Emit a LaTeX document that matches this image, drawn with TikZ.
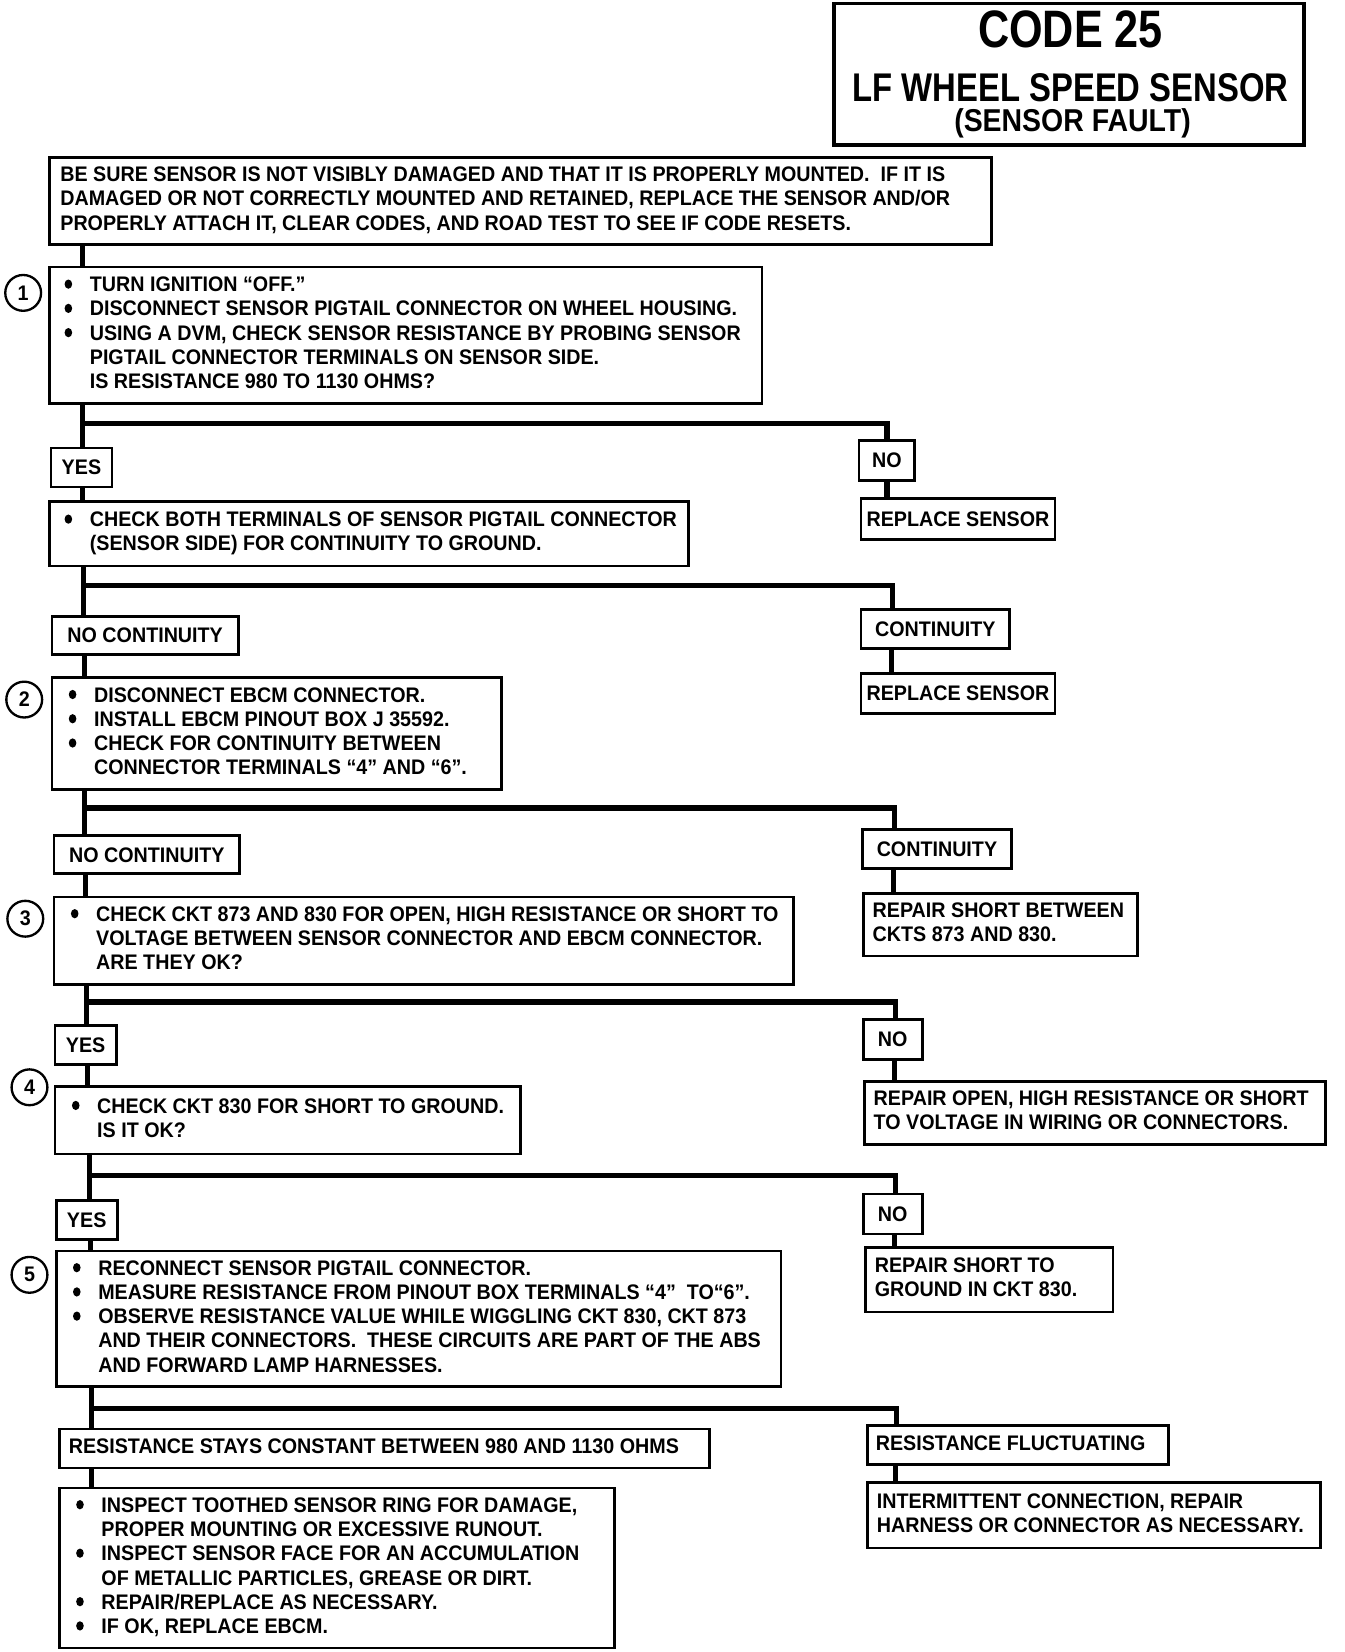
\documentclass[tikz,border=0pt]{standalone}
\usepackage{fontspec}
\setmainfont{Liberation Sans}[FakeStretch=0.935]
\newfontfamily\titlefont{Liberation Sans}[FakeStretch=0.82]
\newfontfamily\subtitlefont{Liberation Sans}[FakeStretch=0.9]
\newcommand{\bl}{\makebox[12pt][l]{\raisebox{1.4pt}{\tikz\fill (0,0) circle[x radius=1.8pt, y radius=2.2pt];}}}
\newcommand{\lb}[2]{\makebox[#1][l]{\begin{tabular}{@{}l@{}l@{}}#2\end{tabular}}}
\begin{document}
\begin{tikzpicture}[x=0.5pt,y=-0.5pt,
  txt/.style={font=\fontsize{10}{11.5}\selectfont\bfseries},
  box/.style={draw, line width=1.3pt, anchor=north west, inner ysep=1pt, txt},
  lab/.style={draw, line width=1.3pt, anchor=north west, inner sep=0pt, txt},
  num/.style={circle, draw, line width=1.1pt, minimum size=17pt, inner sep=0pt, font=\fontsize{10}{10}\selectfont\bfseries},
  conn/.style={line width=2.5pt}]
\useasboundingbox (0,0) rectangle (1276,1568);
% title
\node[draw, line width=1.6pt, anchor=north west, minimum width=223pt, minimum height=67pt, inner sep=0pt] (title) at (790,2) {};
\node[anchor=base, inner sep=0pt, font=\titlefont\fontsize{25}{25}\selectfont\bfseries] (t1) at (1016,45) {CODE 25};
\node[anchor=base, inner sep=0pt, font=\titlefont\fontsize{19}{19}\selectfont\bfseries] (t2) at (1016,96) {LF WHEEL SPEED SENSOR};
\node[anchor=base, inner sep=0pt, font=\subtitlefont\fontsize{15}{15}\selectfont\bfseries] (t3) at (1018,125) {(SENSOR FAULT)};
% boxes
\node[box, minimum width=447pt, minimum height=41.5pt, inner xsep=5pt] (a) at (46,148) {\lb{437pt}{%
&BE SURE SENSOR IS NOT VISIBLY DAMAGED AND THAT IT IS PROPERLY MOUNTED.\ \ IF IT IS\\
&DAMAGED OR NOT CORRECTLY MOUNTED AND RETAINED, REPLACE THE SENSOR AND/OR\\
&PROPERLY ATTACH IT, CLEAR CODES, AND ROAD TEST TO SEE IF CODE RESETS.}};
\node[box, minimum width=338pt, minimum height=65pt, inner xsep=7pt] (b1) at (46,252) {\lb{324pt}{%
\bl&TURN IGNITION ``OFF.''\\
\bl&DISCONNECT SENSOR PIGTAIL CONNECTOR ON WHEEL HOUSING.\\
\bl&USING A DVM, CHECK SENSOR RESISTANCE BY PROBING SENSOR\\
&PIGTAIL CONNECTOR TERMINALS ON SENSOR SIDE.\\
&IS RESISTANCE 980 TO 1130 OHMS?}};
\node[lab, minimum width=29pt, minimum height=18.5pt] (yes1) at (47,424) {YES};
\node[lab, minimum width=26.5pt, minimum height=19pt] (no1) at (814,417) {NO};
\node[lab, minimum width=92pt, minimum height=19.5pt] (rs1) at (816,472) {REPLACE SENSOR};
\node[box, minimum width=303pt, minimum height=30.5pt, inner xsep=7pt] (c1) at (46,475) {\lb{289pt}{%
\bl&CHECK BOTH TERMINALS OF SENSOR PIGTAIL CONNECTOR\\
&(SENSOR SIDE) FOR CONTINUITY TO GROUND.}};
\node[lab, minimum width=88.5pt, minimum height=18pt] (nc1) at (48,584) {NO CONTINUITY};
\node[lab, minimum width=70.5pt, minimum height=18.5pt] (co1) at (816,577) {CONTINUITY};
\node[lab, minimum width=92pt, minimum height=19pt] (rs2) at (816,638) {REPLACE SENSOR};
\node[box, minimum width=213.5pt, minimum height=53pt, inner xsep=8pt] (b2) at (48,642) {\lb{197.5pt}{%
\bl&DISCONNECT EBCM CONNECTOR.\\
\bl&INSTALL EBCM PINOUT BOX J 35592.\\
\bl&CHECK FOR CONTINUITY BETWEEN\\
&CONNECTOR TERMINALS ``4'' AND ``6''.}};
\node[lab, minimum width=88pt, minimum height=18pt] (nc2) at (50,792) {NO CONTINUITY};
\node[lab, minimum width=71pt, minimum height=18.5pt] (co2) at (817,786) {CONTINUITY};
\node[box, minimum width=130pt, minimum height=29.5pt, inner xsep=4.5pt] (rp1) at (818,847) {\lb{121pt}{%
&REPAIR SHORT BETWEEN\\
&CKTS 873 AND 830.}};
\node[box, minimum width=351pt, minimum height=41.5pt, inner xsep=8pt] (b3) at (50,850) {\lb{335pt}{%
\bl&CHECK CKT 873 AND 830 FOR OPEN, HIGH RESISTANCE OR SHORT TO\\
&VOLTAGE BETWEEN SENSOR CONNECTOR AND EBCM CONNECTOR.\\
&ARE THEY OK?}};
\node[lab, minimum width=29pt, minimum height=18.5pt] (yes2) at (51,972) {YES};
\node[lab, minimum width=28pt, minimum height=19pt] (no2) at (818,966) {NO};
\node[box, minimum width=219pt, minimum height=30pt, inner xsep=4.5pt] (rp2) at (819,1025) {\lb{210pt}{%
&REPAIR OPEN, HIGH RESISTANCE OR SHORT\\
&TO VOLTAGE IN WIRING OR CONNECTORS.}};
\node[box, minimum width=221pt, minimum height=32pt, inner xsep=8pt] (b4) at (51,1030) {\lb{205pt}{%
\bl&CHECK CKT 830 FOR SHORT TO GROUND.\\
&IS IT OK?}};
\node[lab, minimum width=29pt, minimum height=18.5pt] (yes3) at (52,1138) {YES};
\node[lab, minimum width=28pt, minimum height=19pt] (no3) at (818,1132) {NO};
\node[box, minimum width=117.5pt, minimum height=30.5pt, inner xsep=4.5pt] (rp3) at (820,1183) {\lb{108.5pt}{%
&REPAIR SHORT TO\\
&GROUND IN CKT 830.}};
\node[box, minimum width=344pt, minimum height=64.5pt, inner xsep=8pt] (b5) at (52,1186) {\lb{328pt}{%
\bl&RECONNECT SENSOR PIGTAIL CONNECTOR.\\
\bl&MEASURE RESISTANCE FROM PINOUT BOX TERMINALS ``4''\ \ TO``6''.\\
\bl&OBSERVE RESISTANCE VALUE WHILE WIGGLING CKT 830, CKT 873\\
&AND THEIR CONNECTORS.\ \ THESE CIRCUITS ARE PART OF THE ABS\\
&AND FORWARD LAMP HARNESSES.}};
\node[box, minimum width=308.5pt, minimum height=18.5pt, inner xsep=4.5pt] (rsc) at (55,1355) {\lb{299.5pt}{%
&RESISTANCE STAYS CONSTANT BETWEEN 980 AND 1130 OHMS}};
\node[box, minimum width=143pt, minimum height=18.5pt, inner xsep=4pt] (rf) at (822,1352) {\lb{135pt}{%
&RESISTANCE FLUCTUATING}};
\node[box, minimum width=215pt, minimum height=31pt, inner xsep=4.5pt] (ic) at (822,1406) {\lb{206pt}{%
&INTERMITTENT CONNECTION, REPAIR\\
&HARNESS OR CONNECTOR AS NECESSARY.}};
\node[box, minimum width=263.5pt, minimum height=76pt, inner xsep=8pt] (fin) at (55,1411) {\lb{247.5pt}{%
\bl&INSPECT TOOTHED SENSOR RING FOR DAMAGE,\\
&PROPER MOUNTING OR EXCESSIVE RUNOUT.\\
\bl&INSPECT SENSOR FACE FOR AN ACCUMULATION\\
&OF METALLIC PARTICLES, GREASE OR DIRT.\\
\bl&REPAIR/REPLACE AS NECESSARY.\\
\bl&IF OK, REPLACE EBCM.}};
% step numbers
\node[num] (s1) at (22,278) {1};
\node[num] (s2) at (23,664) {2};
\node[num] (s3) at (24,872) {3};
\node[num] (s4) at (28,1032) {4};
\node[num] (s5) at (28,1210) {5};
% junctions
\coordinate (j0) at (78,240);
\coordinate (j1) at (78,402);  \coordinate (k1) at (842,402);
\coordinate (j2) at (79,556);  \coordinate (k2) at (847,556);
\coordinate (j3) at (80,767);  \coordinate (k3) at (849,767);
\coordinate (j4) at (82,951);  \coordinate (k4) at (850,951);
\coordinate (j5) at (85,1116); \coordinate (k5) at (850,1116);
\coordinate (j6) at (87,1337); \coordinate (k6) at (851,1337);
% connectors
\draw[conn] (a.south -| j0) -- (b1.north -| j0);
\draw[conn] (b1.south -| j1) -- (yes1.north -| j1);
\draw[conn] (j1) -- (k1) -- (no1.north -| k1);
\draw[conn] (yes1.south -| j1) -- (c1.north -| j1);
\draw[conn] (no1.south -| k1) -- (rs1.north -| k1);
\draw[conn] (c1.south -| j2) -- (nc1.north -| j2);
\draw[conn] (j2) -- (k2) -- (co1.north -| k2);
\draw[conn] ([xshift=0.5pt]nc1.south -| j2) -- ([xshift=0.5pt]b2.north -| j2);
\draw[conn] ([xshift=-0.5pt]co1.south -| k2) -- ([xshift=-0.5pt]rs2.north -| k2);
\draw[conn] (b2.south -| j3) -- (nc2.north -| j3);
\draw[conn] (j3) -- (k3) -- (co2.north -| k3);
\draw[conn] ([xshift=0.5pt]nc2.south -| j3) -- ([xshift=0.5pt]b3.north -| j3);
\draw[conn] ([xshift=-0.5pt]co2.south -| k3) -- ([xshift=-0.5pt]rp1.north -| k3);
\draw[conn] (b3.south -| j4) -- (yes2.north -| j4);
\draw[conn] (j4) -- (k4) -- (no2.north -| k4);
\draw[conn] ([xshift=0.5pt]yes2.south -| j4) -- ([xshift=0.5pt]b4.north -| j4);
\draw[conn] ([xshift=-0.5pt]no2.south -| k4) -- ([xshift=-0.5pt]rp2.north -| k4);
\draw[conn] (b4.south -| j5) -- (yes3.north -| j5);
\draw[conn] (j5) -- (k5) -- (no3.north -| k5);
\draw[conn] ([xshift=0.5pt]yes3.south -| j5) -- ([xshift=0.5pt]b5.north -| j5);
\draw[conn] ([xshift=-0.5pt]no3.south -| k5) -- ([xshift=-0.5pt]rp3.north -| k5);
\draw[conn] (b5.south -| j6) -- (rsc.north -| j6);
\draw[conn] (j6) -- (k6) -- (rf.north -| k6);
\draw[conn] (rsc.south -| j6) -- (fin.north -| j6);
\draw[conn] ([xshift=-0.5pt]rf.south -| k6) -- ([xshift=-0.5pt]ic.north -| k6);
\end{tikzpicture}
\end{document}
